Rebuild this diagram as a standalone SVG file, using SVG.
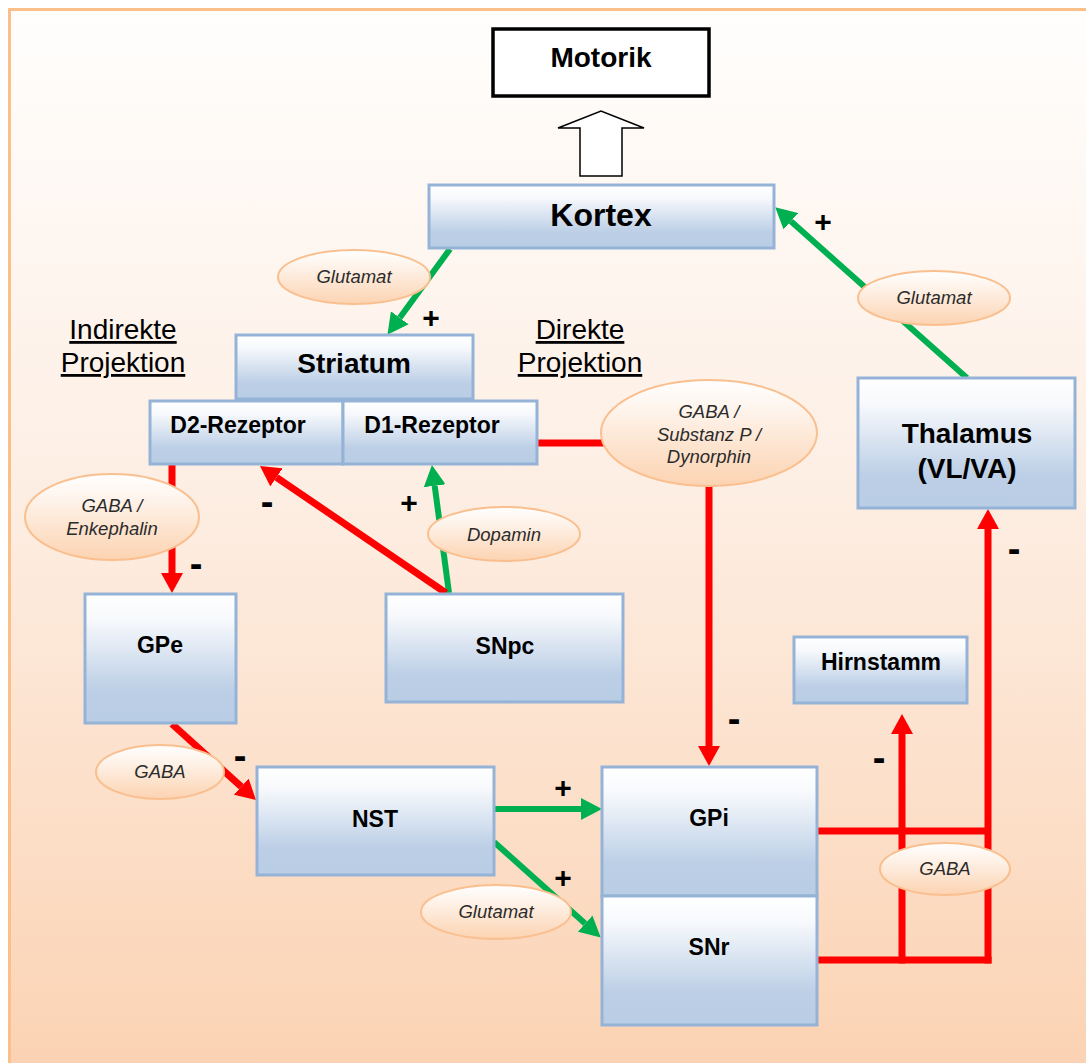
<svg xmlns="http://www.w3.org/2000/svg" width="1086" height="1063" viewBox="0 0 1086 1063">
<defs>
<linearGradient id="bg" x1="0" y1="0" x2="0" y2="1">
<stop offset="0" stop-color="#fffefd"/>
<stop offset="0.45" stop-color="#fdeee3"/>
<stop offset="1" stop-color="#fbd2b2"/>
</linearGradient>
<linearGradient id="nodeFill" x1="0" y1="0" x2="0" y2="1">
<stop offset="0" stop-color="#ffffff"/>
<stop offset="0.2" stop-color="#f7f9fc"/>
<stop offset="0.75" stop-color="#bccfe6"/>
<stop offset="1" stop-color="#b9cde5"/>
</linearGradient>
<linearGradient id="ellFill" x1="0" y1="0" x2="0" y2="1">
<stop offset="0" stop-color="#ffffff"/>
<stop offset="0.3" stop-color="#fef3ea"/>
<stop offset="1" stop-color="#fcd3b1"/>
</linearGradient>
<marker id="arrG" markerUnits="userSpaceOnUse" markerWidth="21" markerHeight="22" refX="0" refY="11" orient="auto" viewBox="0 0 21 22">
<path d="M0,0 L21,11 L0,22 z" fill="#00b050"/>
</marker>
<marker id="arrR" markerUnits="userSpaceOnUse" markerWidth="20" markerHeight="22" refX="0" refY="11" orient="auto" viewBox="0 0 20 22">
<path d="M0,0 L20,11 L0,22 z" fill="#ff0000"/>
</marker>
</defs>
<style>
.node rect{fill:url(#nodeFill);stroke:#95b3d7;stroke-width:3}
.lbl{font-family:"Liberation Sans",Arial,sans-serif;font-weight:bold;fill:#000;text-anchor:middle}
.ell ellipse{fill:url(#ellFill);stroke:#f9bf8f;stroke-width:2}
.et{font-family:"Liberation Sans",Arial,sans-serif;font-style:italic;font-size:18.5px;fill:#2b2b2b;text-anchor:middle}
.g{stroke:#00b050;stroke-width:6;fill:none}
.r{stroke:#ff0000;stroke-width:7;fill:none}
.sign{font-family:"Liberation Sans",Arial,sans-serif;font-weight:bold;fill:#000;text-anchor:middle}
.proj{font-family:"Liberation Sans",Arial,sans-serif;font-size:28px;fill:#000;text-anchor:middle;text-decoration:underline}
</style>
<rect x="9.5" y="9.5" width="1090" height="1070" fill="url(#bg)" stroke="#fbbf8a" stroke-width="3"/>

<g id="connectors">
<path class="g" d="M450,249 L399.8,317.8" marker-end="url(#arrG)"/>
<path class="g" d="M967,378 L790.9,221.3" marker-end="url(#arrG)"/>
<path class="r" d="M172,464 L172,573" marker-end="url(#arrR)"/>
<path class="g" d="M449,593 L434.7,485.8" marker-end="url(#arrG)"/>
<path class="r" d="M446,593 L276.5,477.3" marker-end="url(#arrR)"/>
<path class="r" d="M537,443 L605,443"/>
<path class="r" d="M709,485 L709,746" marker-end="url(#arrR)"/>
<path class="r" d="M172,724 L241.2,786.6" marker-end="url(#arrR)"/>
<path class="g" d="M494,809 L581,809" marker-end="url(#arrG)"/>
<path class="g" d="M494,842 L585.1,923.6" marker-end="url(#arrG)"/>
<path class="r" d="M817,831 L988,831"/>
<path class="r" d="M817,960 L991.5,960"/>
<path class="r" d="M988,963.5 L988,529" marker-end="url(#arrR)"/>
<path class="r" d="M902,963.5 L902,734" marker-end="url(#arrR)"/>
<path d="M580,176 L580,128 L558,128 L601,111 L644,128 L622,128 L622,176 Z" fill="#ffffff" stroke="#000" stroke-width="1.5"/>
</g>

<g id="motorik">
<rect x="493" y="29" width="216" height="67" fill="#ffffff" stroke="#000" stroke-width="3.5"/>
<text class="lbl" x="601" y="67" font-size="28">Motorik</text>
</g>
<g id="kortex" class="node">
<rect x="429" y="185" width="345" height="63"/>
<text class="lbl" x="601" y="226" font-size="32">Kortex</text>
</g>
<g id="striatum" class="node">
<rect x="236" y="335" width="237" height="64"/>
<text class="lbl" x="354" y="373" font-size="28">Striatum</text>
</g>
<g id="d2" class="node">
<rect x="150" y="401" width="193" height="63"/>
<text class="lbl" x="238" y="433" font-size="23">D2-Rezeptor</text>
</g>
<g id="d1" class="node">
<rect x="343" y="401" width="194" height="63"/>
<text class="lbl" x="432" y="433" font-size="23">D1-Rezeptor</text>
</g>
<g id="thalamus" class="node">
<rect x="858" y="378" width="217" height="130"/>
<text class="lbl" x="967" y="443" font-size="28">Thalamus</text>
<text class="lbl" x="967" y="478" font-size="28">(VL/VA)</text>
</g>
<g id="gpe" class="node">
<rect x="85" y="594" width="151" height="129"/>
<text class="lbl" x="160" y="653" font-size="23">GPe</text>
</g>
<g id="snpc" class="node">
<rect x="386" y="594" width="237" height="108"/>
<text class="lbl" x="505" y="654" font-size="23">SNpc</text>
</g>
<g id="hirnstamm" class="node">
<rect x="794" y="637" width="173" height="66"/>
<text class="lbl" x="881" y="670" font-size="23">Hirnstamm</text>
</g>
<g id="nst" class="node">
<rect x="257" y="767" width="237" height="108"/>
<text class="lbl" x="375" y="827" font-size="23">NST</text>
</g>
<g id="gpi" class="node">
<rect x="602" y="767" width="215" height="129"/>
<text class="lbl" x="709" y="826" font-size="23">GPi</text>
</g>
<g id="snr" class="node">
<rect x="602" y="896" width="215" height="129"/>
<text class="lbl" x="709" y="955" font-size="23">SNr</text>
</g>

<g id="ell-glut1" class="ell"><ellipse cx="354" cy="277" rx="76" ry="27"/><text class="et" x="354" y="283">Glutamat</text></g>
<g id="ell-glut2" class="ell"><ellipse cx="934" cy="298" rx="76" ry="27"/><text class="et" x="934" y="304">Glutamat</text></g>
<g id="ell-gsd" class="ell"><ellipse cx="709" cy="433" rx="108" ry="53"/>
<text class="et" x="709" y="418">GABA /</text><text class="et" x="709" y="441">Substanz P /</text><text class="et" x="709" y="463">Dynorphin</text></g>
<g id="ell-genk" class="ell"><ellipse cx="112" cy="517" rx="87" ry="43"/>
<text class="et" x="112" y="512">GABA /</text><text class="et" x="112" y="535">Enkephalin</text></g>
<g id="ell-dopa" class="ell"><ellipse cx="504" cy="534" rx="76" ry="27"/><text class="et" x="504" y="541">Dopamin</text></g>
<g id="ell-gaba1" class="ell"><ellipse cx="160" cy="772" rx="64" ry="27"/><text class="et" x="160" y="778">GABA</text></g>
<g id="ell-glut3" class="ell"><ellipse cx="496" cy="912" rx="75" ry="27"/><text class="et" x="496" y="918">Glutamat</text></g>
<g id="ell-gaba2" class="ell"><ellipse cx="945" cy="869" rx="65" ry="26"/><text class="et" x="945" y="875">GABA</text></g>

<g id="labels">
<text class="proj" x="123" y="339">Indirekte</text>
<text class="proj" x="123" y="372">Projektion</text>
<text class="proj" x="580" y="339">Direkte</text>
<text class="proj" x="580" y="372">Projektion</text>
<text class="sign" x="431" y="328" font-size="30">+</text>
<text class="sign" x="823" y="232" font-size="30">+</text>
<text class="sign" x="409" y="513" font-size="30">+</text>
<text class="sign" x="563" y="798" font-size="30">+</text>
<text class="sign" x="563" y="888" font-size="30">+</text>
<text class="sign" x="267" y="515" font-size="38">-</text>
<text class="sign" x="196" y="577" font-size="38">-</text>
<text class="sign" x="240" y="769" font-size="38">-</text>
<text class="sign" x="734" y="732" font-size="38">-</text>
<text class="sign" x="879" y="771" font-size="38">-</text>
<text class="sign" x="1014" y="562" font-size="38">-</text>
</g>
</svg>
